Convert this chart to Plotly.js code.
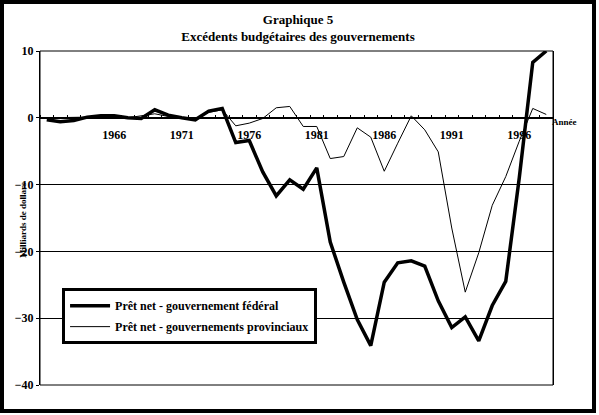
<!DOCTYPE html>
<html>
<head>
<meta charset="utf-8">
<script src="https://cdn.plot.ly/plotly-3.0.1.min.js"></script>
<style>
  body { margin: 0; background: #fff; }
  #frame { position: absolute; left: 0; top: 0; width: 588px; height: 405px; border: 4px solid #000; }
  #chart { width: 588px; height: 405px; }
</style>
</head>
<body>
<div id="frame"><div id="chart"></div></div>
<script>
// années 1961 - 1998
var years = [1961, 1962, 1963, 1964, 1965, 1966, 1967, 1968, 1969, 1970,
             1971, 1972, 1973, 1974, 1975, 1976, 1977, 1978, 1979, 1980,
             1981, 1982, 1983, 1984, 1985, 1986, 1987, 1988, 1989, 1990,
             1991, 1992, 1993, 1994, 1995, 1996, 1997, 1998];

// milliards de dollars
var federal = [-0.3, -0.6, -0.4, 0.1, 0.3, 0.3, 0.0, -0.1, 1.2, 0.4,
               0.0, -0.3, 1.0, 1.4, -3.7, -3.4, -8.1, -11.7, -9.3, -10.7,
               -7.5, -18.6, -24.6, -30.2, -34.1, -24.6, -21.7, -21.4, -22.2, -27.4,
               -31.4, -29.8, -33.4, -28.1, -24.5, -9.0, 8.3, 10.0];

var provincial = [0.0, 0.0, 0.1, 0.1, 0.3, 0.3, 0.0, 0.3, 0.6, 0.2,
                  0.0, -0.2, 0.8, 1.2, -1.2, -0.8, -0.1, 1.5, 1.7, -1.3,
                  -1.3, -6.1, -5.8, -1.5, -2.9, -8.0, -3.8, 0.3, -1.8, -5.1,
                  -16.5, -26.1, -20.2, -13.1, -8.8, -3.5, 1.4, 0.5];

var yearLabels = [1966, 1971, 1976, 1981, 1986, 1991, 1996];

var serif = 'Liberation Serif';

var fed = {
  x: years,
  y: federal,
  type: 'scatter',
  mode: 'lines',
  name: '<b>Prêt net - gouvernement fédéral</b>',
  legendgroup: 'a',
  line: { color: '#000', width: 3.5 }
};
var prov = {
  x: years,
  y: provincial,
  type: 'scatter',
  mode: 'lines',
  name: '<b>Prêt net - gouvernements provinciaux</b>',
  legendgroup: 'b',
  line: { color: '#000', width: 1 }
};

var layout = {
  width: 588,
  height: 405,
  margin: { l: 36, r: 39, t: 47, b: 24 },
  paper_bgcolor: '#fff',
  plot_bgcolor: '#fff',
  font: { family: serif, color: '#000', size: 12 },
  title: {
    text: '<b>Graphique 5<br>Excédents budgétaires des gouvernements</b>',
    font: { family: serif, size: 13, color: '#000' },
    x: 0.5, xref: 'container',
    y: 0.95, yref: 'container', yanchor: 'top'
  },
  xaxis: {
    range: [1960.5, 1998.5],
    anchor: 'free',
    position: 0.8,
    tickmode: 'array',
    tickvals: yearLabels,
    ticktext: yearLabels.map(function (y) { return '<b>' + y + '</b>'; }),
    ticks: '',
    ticklabelstandoff: 6,
    tickfont: { family: serif, size: 12 },
    showline: true,
    linecolor: '#000',
    linewidth: 1,
    showgrid: false,
    zeroline: false,
    layer: 'below traces',
    minor: { tick0: 1960.5, dtick: 1, ticks: 'inside', ticklen: 3, tickcolor: '#000', showgrid: false }
  },
  yaxis: {
    range: [-40, 10],
    dtick: 10,
    tick0: 0,
    tickprefix: '<b>',
    ticksuffix: '</b>',
    ticks: 'outside',
    ticklen: 3,
    tickcolor: '#000',
    tickfont: { family: serif, size: 12 },
    showgrid: true,
    gridcolor: '#000',
    gridwidth: 1,
    zeroline: false,
    showline: true,
    mirror: true,
    linecolor: '#000',
    linewidth: 1
  },
  shapes: [
    { type: 'rect', xref: 'paper', yref: 'paper', x0: 0, x1: 1, y0: 0, y1: 1,
      line: { color: '#000', width: 1 } }
  ],
  showlegend: true,
  legend: {
    x: 0.043, y: 0.29, xanchor: 'left', yanchor: 'top',
    bgcolor: '#fff',
    bordercolor: '#000',
    borderwidth: 3,
    traceorder: 'grouped',
    tracegroupgap: 2,
    itemwidth: 40,
    font: { family: 'Liberation Serif, serif', size: 12, color: '#000' }
  },
  annotations: [
    { text: '<b>Année</b>', xref: 'paper', yref: 'y', x: 1.023, y: -0.6,
      showarrow: false, xanchor: 'center',
      font: { family: serif, size: 9, color: '#000' } },
    { text: '<b>Milliards de dollars</b>', xref: 'paper', yref: 'paper', x: -0.047, y: 0.494,
      textangle: -90, showarrow: false,
      font: { family: serif, size: 9, color: '#000' } }
  ]
};

Plotly.newPlot('chart', [fed, prov], layout, { displayModeBar: false, staticPlot: true });
</script>
</body>
</html>
